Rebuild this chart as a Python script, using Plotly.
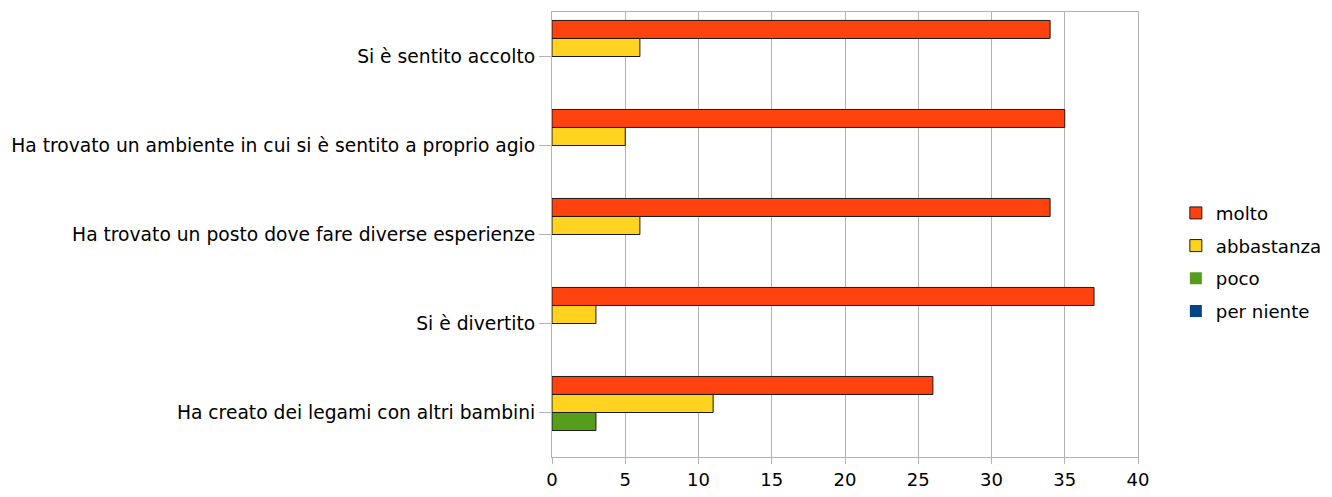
import plotly.graph_objects as go

categories = [
    "Si è sentito accolto",
    "Ha trovato un ambiente in cui si è sentito a proprio agio",
    "Ha trovato un posto dove fare diverse esperienze",
    "Si è divertito",
    "Ha creato dei legami con altri bambini",
]
series_names = ["molto", "abbastanza", "poco", "per niente"]
molto = [34, 35, 34, 37, 26]
abbastanza = [6, 5, 6, 3, 11]
poco = [0, 0, 0, 0, 3]
per_niente = [0, 0, 0, 0, 0]
colors = ["#FF420E", "#FFD320", "#579D1C", "#004586"]
x_ticks = [0, 5, 10, 15, 20, 25, 30, 35, 40]

FONT = "DejaVu Sans, Liberation Sans, Arial, sans-serif"

fig = go.Figure()
for name, vals, col in zip(series_names, [molto, abbastanza, poco, per_niente], colors):
    fig.add_trace(go.Bar(
        y=categories, x=vals, name=name, orientation="h",
        legendgroup=name,
        marker=dict(color=col, line=dict(color="#1a1a1a",
                                         width=[1 if v > 0 else 0 for v in vals])),
    ))

fig.update_layout(
    width=1332, height=497,
    barmode="group", bargap=0.19, bargroupgap=0,
    plot_bgcolor="white", paper_bgcolor="white",
    margin=dict(l=544, r=202, t=4, b=48),
    font=dict(family=FONT, size=18, color="black"),
    showlegend=True,
    legend=dict(x=1.0646, y=0.438, xanchor="left", yanchor="middle",
                font=dict(size=18.2), traceorder="grouped", tracegroupgap=6,
                itemwidth=30),
    xaxis=dict(range=[0, 40], tickvals=x_ticks, showgrid=True, gridcolor="#b3b3b3",
               gridwidth=1, showline=True, linecolor="#b3b3b3", mirror=True,
               ticks="outside", ticklen=6, tickcolor="#b3b3b3", zeroline=False,
               tickfont=dict(size=18)),
    yaxis=dict(autorange="reversed", showline=True, linecolor="#b3b3b3", mirror=True,
               ticks="outside", ticklen=12, tickcolor="#b3b3b3", showgrid=False,
               tickfont=dict(size=18.7)),
)
fig.write_html("out.html")
